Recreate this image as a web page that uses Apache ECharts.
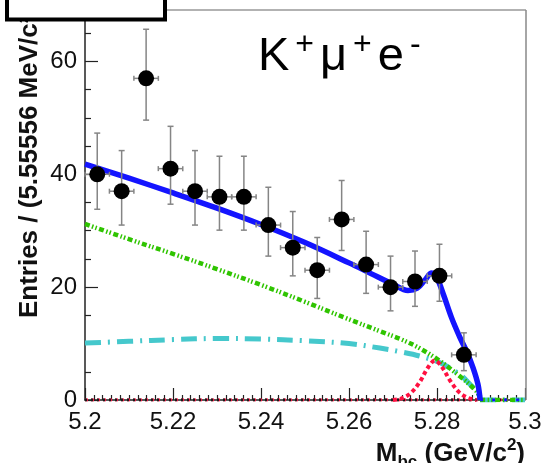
<!DOCTYPE html>
<html>
<head>
<meta charset="utf-8">
<script src="https://cdn.jsdelivr.net/npm/echarts@6/dist/echarts.min.js"></script>
<style>
html,body{margin:0;padding:0;background:#fff;}
#chart{width:545px;height:463px;}
</style>
</head>
<body>
<div id="chart"></div>
<script>
// ---- data ----
const binCenters = [5.20278, 5.20833, 5.21389, 5.21944, 5.22500, 5.23056, 5.23611, 5.24167,
                    5.24722, 5.25278, 5.25833, 5.26389, 5.26944, 5.27500, 5.28056, 5.28611];
const counts   = [40, 37, 57, 41, 37, 36, 36, 31, 27, 23, 32, 24, 20, 21, 22, 8];
const errLow   = [33.8, 31.0, 49.6, 34.7, 31.0, 30.1, 30.1, 25.5, 22.0, 18.0, 26.5, 18.9, 15.8, 16.6, 17.5, 5.2];
const errHigh  = [47.3, 44.2, 65.7, 48.5, 44.2, 43.2, 43.2, 37.7, 33.4, 28.8, 38.9, 29.9, 25.5, 26.4, 27.6, 11.9];
const halfBin  = 0.00278;

const totalFit = [[5.200,41.8],[5.210,39.3],[5.220,36.7],[5.230,34.0],[5.240,31.1],[5.250,27.9],
                  [5.260,24.3],[5.265,22.4],[5.270,20.5],[5.2734,19.4],[5.2755,19.8],[5.2772,21.2],
                  [5.2788,22.5],[5.2800,21.6],[5.2815,18.6],[5.2833,14.6],[5.2852,11.1],[5.2868,8.5],
                  [5.2882,5.7],[5.2893,2.8],[5.2898,0]];
const argusBkg = [[5.200,31.2],[5.210,28.5],[5.220,25.9],[5.230,23.2],[5.240,20.4],[5.250,17.4],
                  [5.260,14.3],[5.267,12.2],[5.272,10.7],[5.276,9.2],[5.2807,6.9],[5.2852,4.2],
                  [5.2880,2.3],[5.2893,1.2],[5.2898,0]];
const otherBkg = [[5.200,10.1],[5.210,10.4],[5.220,10.7],[5.230,10.9],[5.240,10.8],[5.250,10.5],
                  [5.260,10.0],[5.267,9.2],[5.272,8.5],[5.276,7.8],[5.2807,6.6],[5.2852,4.5],
                  [5.2875,2.8],[5.2893,1.2],[5.2898,0]];
const signal   = [[5.2700,0],[5.2720,0.3],[5.2740,1.2],[5.2760,3.1],[5.2780,5.8],
                  [5.2795,7.0],[5.2810,6.0],[5.2830,3.4],[5.2850,1.4],[5.2870,0.4],[5.2890,0]];
const tailZero = [[5.2898,0],[5.300,0]];
const zeroLine = [[5.200,0],[5.300,0]];
const xTicks = {min: 5.2, max: 5.3, step: 0.02};
const yTicks = {min: 0, max: 70, step: 20};

const FONT = 'Liberation Sans, Arial, Helvetica, sans-serif';
const chart = echarts.init(document.getElementById('chart'), null, {renderer: 'canvas'});

const errData = binCenters.map((x, i) => [x, counts[i], errLow[i], errHigh[i]]);
const ptData = binCenters.map((x, i) => [x, counts[i]]);

function line(x1, y1, x2, y2, style) {
  return {type: 'line', shape: {x1, y1, x2, y2}, style};
}
function curve(data, z, lineStyle, smooth) {
  return {type: 'line', data, showSymbol: false, smooth: smooth, z, lineStyle, silent: true};
}

const cyanStyle = {color: '#45c8cc', width: 5, type: [16, 7, 2, 7]};
const greenStyle = {color: '#2fc400', width: 4.5, type: [5, 2.5, 1.5, 2, 1.5, 2.5]};
const redStyle = {color: '#ff1040', width: 4, type: [4, 3]};
const blueStyle = {color: '#1414ff', width: 5.5};

chart.setOption({
  animation: false,
  backgroundColor: '#fff',
  grid: {left: 85, right: 20, top: 5, bottom: 63, show: false},
  xAxis: {
    type: 'value', min: xTicks.min, max: xTicks.max, interval: xTicks.step,
    axisLine: {show: true, lineStyle: {color: '#222', width: 1.5}},
    axisTick: {show: true, inside: true, length: 12, lineStyle: {color: '#222', width: 1.2}},
    minorTick: {show: true, splitNumber: 10, length: 5, lineStyle: {color: '#222', width: 1.2}},
    splitLine: {show: false},
    axisLabel: {fontFamily: FONT, fontSize: 24, color: '#111', margin: 10,
                formatter: v => String(+v.toFixed(2))}
  },
  yAxis: {
    type: 'value', min: yTicks.min, max: yTicks.max, interval: yTicks.step,
    axisLine: {show: true, lineStyle: {color: '#222', width: 1.5}},
    axisTick: {show: true, inside: true, length: 13, lineStyle: {color: '#222', width: 1.2}},
    minorTick: {show: true, splitNumber: 4, length: 6, lineStyle: {color: '#222', width: 1.2}},
    splitLine: {show: false},
    axisLabel: {fontFamily: FONT, fontSize: 24, color: '#111', margin: 8, showMaxLabel: false}
  },
  series: [
    curve(zeroLine, 2, {color: '#ff1040', width: 3, type: [3, 3]}, false),
    curve(zeroLine, 3, {color: '#1a1a1a', width: 3, type: [2, 4]}, false),
    curve(otherBkg, 3, cyanStyle, 0.35),
    curve(tailZero, 3, cyanStyle, false),
    curve(argusBkg, 4, greenStyle, 0.35),
    curve(tailZero, 4, greenStyle, false),
    curve(signal, 5, redStyle, 0.35),
    curve(totalFit, 6, blueStyle, 0.35),
    curve(tailZero, 5, {color: '#1414ff', width: 3, type: [3, 9]}, false),
    {type: 'custom', data: errData, z: 7, silent: true,
     renderItem: function (params, api) {
       const x = api.value(0), y = api.value(1), lo = api.value(2), hi = api.value(3);
       const pLo = api.coord([x, lo]), pHi = api.coord([x, hi]);
       const pL = api.coord([x - halfBin, y]), pR = api.coord([x + halfBin, y]);
       const st = {stroke: '#858585', lineWidth: 1.5};
       return {type: 'group', children: [
         line(pLo[0], pLo[1], pHi[0], pHi[1], st),
         line(pLo[0] - 3, pLo[1], pLo[0] + 3, pLo[1], st),
         line(pHi[0] - 3, pHi[1], pHi[0] + 3, pHi[1], st),
         line(pL[0], pL[1], pR[0], pR[1], st),
         line(pL[0], pL[1] - 2.5, pL[0], pL[1] + 2.5, st),
         line(pR[0], pR[1] - 2.5, pR[0], pR[1] + 2.5, st)
       ]};
     }},
    {type: 'scatter', data: ptData, symbol: 'circle', symbolSize: 16, z: 8, silent: true,
     itemStyle: {color: '#000', opacity: 1}}
  ],
  graphic: [
    // frame (top and right)
    {type: 'line', shape: {x1: 85, y1: 10, x2: 526, y2: 10}, style: {stroke: '#999', lineWidth: 1.5}, z: 1},
    {type: 'line', shape: {x1: 526, y1: 10, x2: 526, y2: 400}, style: {stroke: '#888', lineWidth: 1.5}, z: 1},
    // y-axis title
    {type: 'text', x: 30, y: 162, rotation: Math.PI / 2, z: 10,
     style: {text: 'Entries / (5.55556 MeV/c²)', fontFamily: FONT, fontSize: 26, fontWeight: 'bold',
             fill: '#111', align: 'center', verticalAlign: 'middle'}},
    // x-axis title
    {type: 'text', x: 525, y: 437, z: 10,
     style: {
       text: '{m|M}{sub|bc}{m| (GeV/c}{sup|2}{m|)}',
       align: 'right', verticalAlign: 'top',
       rich: {
         m: {fontFamily: FONT, fontSize: 26, fontWeight: 'bold', fill: '#111', lineHeight: 34},
         sub: {fontFamily: FONT, fontSize: 17, fontWeight: 'bold', fill: '#111', lineHeight: 17, verticalAlign: 'bottom'},
         sup: {fontFamily: FONT, fontSize: 17, fontWeight: 'bold', fill: '#111', lineHeight: 17, verticalAlign: 'top'}
       }
     }},
    // channel label
    {type: 'text', x: 255, y: 29, z: 10,
     style: {
       text: '{m|K}{sup|+}{m|μ}{sup|+}{m|e}{sup|-}',
       align: 'left', verticalAlign: 'top',
       rich: {
         m: {fontFamily: FONT, fontSize: 47, fill: '#000', lineHeight: 56, padding: [0, 3]},
         sup: {fontFamily: FONT, fontSize: 32, fill: '#000', lineHeight: 30, verticalAlign: 'top', padding: [0, 3]}
       }
     }},
    // legend box remnant at top-left
    {type: 'rect', shape: {x: 7, y: -10, width: 158, height: 29.5}, z: 20,
     style: {fill: '#fff', stroke: '#000', lineWidth: 4}}
  ]
});
</script>
</body>
</html>
